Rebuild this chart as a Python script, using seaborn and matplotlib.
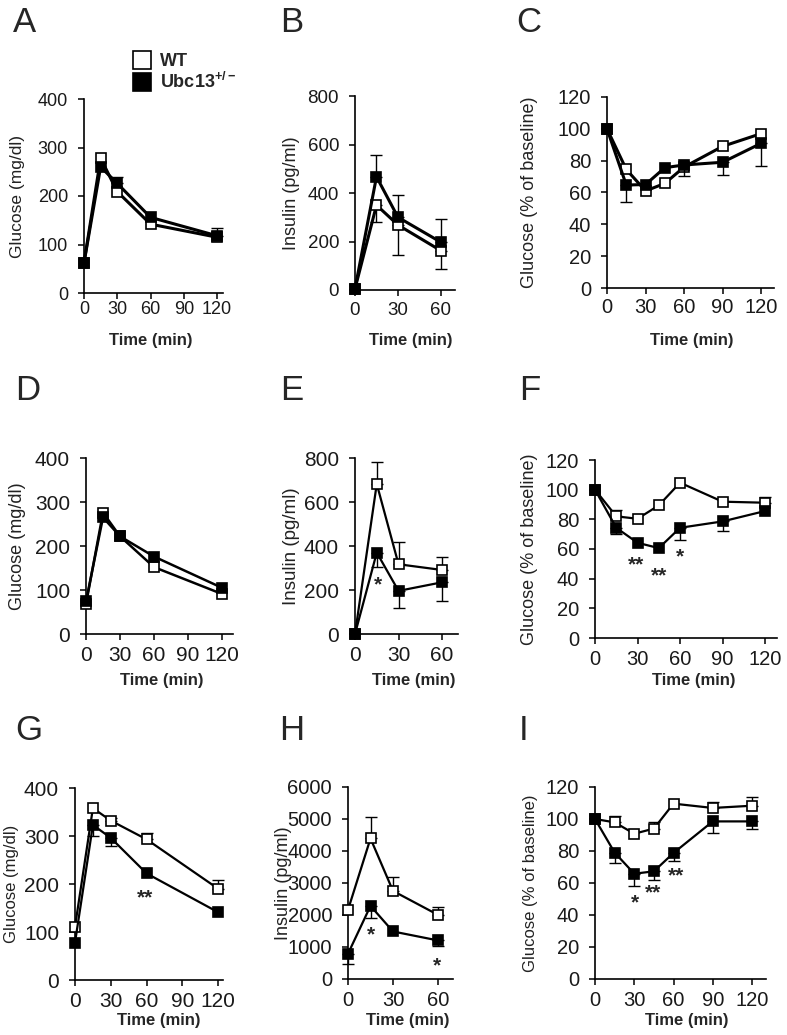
import matplotlib
matplotlib.use("Agg")
import matplotlib.pyplot as plt
from matplotlib.lines import Line2D
import numpy as np
import seaborn as sns

# ---- data ----
glc_time = [0, 15, 30, 60, 120]
ins_time = [0, 15, 30, 60]
pct_time = [0, 15, 30, 45, 60, 90, 120]

# signed errors: >0 drawn upwards, <0 drawn downwards, 0 = not visible
a_wt = [62, 278, 209, 142, 115]
a_ko = [62, 260, 226, 156, 118]
a_wt_err = [0, 0, 0, 0, 0]
a_ko_err = [0, 0, 13, 0, 15]

b_wt = [5, 350, 268, 162]
b_ko = [5, 467, 300, 197]
b_wt_err = [0, -70, -122, -77]
b_ko_err = [0, 90, 92, 94]

c_wt = [100, 74.5, 61, 65.7, 76, 89, 97]
c_ko = [100, 64.7, 65, 75.6, 77.3, 79, 90.9]
c_wt_err = [0, 0, 0, 0, 0, 0, 0]
c_ko_err = [0, -10.5, 0, 0, -7, -8, -14.5]

d_wt = [68, 276, 222, 152, 91]
d_ko = [74, 265, 222, 176, 105]
d_wt_err = [0, 0, 0, 0, 0]
d_ko_err = [0, 0, 0, 0, 0]

e_wt = [0, 682, 317, 291]
e_ko = [0, 370, 196, 235]
e_wt_err = [0, 98, 103, 57]
e_ko_err = [0, -66, -76, -83]

f_wt = [100, 82, 80.4, 89.4, 104.7, 91.9, 91.2]
f_ko = [100, 74.3, 64.2, 60.6, 74.3, 78.6, 85.6]
f_wt_err = [0, 4, 0, 0, 0, 0, 4]
f_ko_err = [0, -4.5, 0, 0, -8.5, -6.5, 0]

g_wt = [111, 358, 332, 293, 190]
g_ko = [78, 323, 296, 222, 141]
g_wt_err = [0, 0, 5, 14, 18]
g_ko_err = [0, -23, -17, 0, 0]

h_wt = [2160, 4392, 2752, 2004]
h_ko = [789, 2284, 1485, 1205]
h_wt_err = [0, 675, 446, 260]
h_ko_err = [-311, -384, 0, -187]

i_wt = [100, 97.9, 90.8, 94, 109.6, 106.9, 108.3]
i_ko = [100, 79, 65.8, 67.3, 78.75, 98.5, 98.5]
i_wt_err = [0, 3.8, 0, 4, 0, 3.7, 5.2]
i_ko_err = [0, -6.5, -7.5, -5.3, -5.2, -7.5, -4.8]

# significance marks: (time, value, text)
e_stars = [(16, 253, "*")]
f_stars = [(29.3, 53.4, "**"), (45.2, 46.2, "**"), (60, 58.6, "*")]
g_stars = [(59, 184, "**")]
h_stars = [(15, 1589, "*"), (59.3, 602, "*")]
i_stars = [(30.3, 51.7, "*"), (44.6, 57.5, "**"), (61.7, 68.3, "**")]

glc_ticks = [0, 100, 200, 300, 400]
ins_ticks = [0, 200, 400, 600, 800]
ins_ticks_h = [0, 1000, 2000, 3000, 4000, 5000, 6000]
pct_ticks = [0, 20, 40, 60, 80, 100, 120]

glc_label = "Glucose (mg/dl)"
ins_label = "Insulin (pg/ml)"
pct_label = "Glucose (% of baseline)"

# ---- style ----
sns.set_style("ticks")
plt.rcParams["font.family"] = ["Liberation Sans", "DejaVu Sans"]
plt.rcParams["mathtext.fontset"] = "custom"
plt.rcParams["mathtext.rm"] = "Liberation Sans:bold"
plt.rcParams["mathtext.default"] = "rm"

W, H = 787, 1035
fig = plt.figure(figsize=(W / 100, H / 100), dpi=100)


def rect(left, right, top, bottom):
    return [left / W, 1 - bottom / H, (right - left) / W, (bottom - top) / H]


# panel layout in pixels: letter, (left, right, top, bottom), xmax, ...
panels = [
    dict(letter="A", box=(84, 223, 99, 293), t=glc_time, wt=a_wt, ko=a_ko, we=a_wt_err, ke=a_ko_err,
         xmax=125.4, xt=[0, 30, 60, 90, 120], yt=glc_ticks, yl=glc_label, stars=[],
         lpos=(13, 22), ylx=18, xlab=(151, 340), tfs=13, yfs=12.5, xpad=1.5, lw=2.2, ms=7.5),
    dict(letter="B", box=(355, 455, 96, 290), t=ins_time, wt=b_wt, ko=b_ko, we=b_wt_err, ke=b_ko_err,
         xmax=69.8, xt=[0, 30, 60], yt=ins_ticks, yl=ins_label, stars=[],
         lpos=(280, 22), ylx=292, xlab=(411, 340), tfs=13.5, yfs=13, xpad=4, lw=2.2, ms=7.5),
    dict(letter="C", box=(607, 774, 97, 288), t=pct_time, wt=c_wt, ko=c_ko, we=c_wt_err, ke=c_ko_err,
         xmax=130, xt=[0, 30, 60, 90, 120], yt=pct_ticks, yl=pct_label, stars=[],
         lpos=(516, 22), ylx=530, xlab=(692, 340), tfs=14.5, yfs=13, xpad=3, lw=2.2, ms=7.5),
    dict(letter="D", box=(86, 233, 458, 634), t=glc_time, wt=d_wt, ko=d_ko, we=d_wt_err, ke=d_ko_err,
         xmax=129.7, xt=[0, 30, 60, 90, 120], yt=glc_ticks, yl=glc_label, stars=[],
         lpos=(15, 390), ylx=18, xlab=(162, 680), tfs=15, yfs=13, xpad=4, lw=1.8, ms=7),
    dict(letter="E", box=(355, 458, 458, 634), t=ins_time, wt=e_wt, ko=e_ko, we=e_wt_err, ke=e_ko_err,
         xmax=71, xt=[0, 30, 60], yt=ins_ticks, yl=ins_label, stars=e_stars,
         lpos=(280, 390), ylx=291, xlab=(414, 680), tfs=15, yfs=13.5, xpad=4, lw=1.6, ms=7),
    dict(letter="F", box=(595, 777, 460, 638), t=pct_time, wt=f_wt, ko=f_ko, we=f_wt_err, ke=f_ko_err,
         xmax=128.4, xt=[0, 30, 60, 90, 120], yt=pct_ticks, yl=pct_label, stars=f_stars,
         lpos=(519, 390), ylx=530, xlab=(694, 680), tfs=14.5, yfs=13, xpad=4, lw=1.6, ms=7),
    dict(letter="G", box=(75, 223, 788, 980), t=glc_time, wt=g_wt, ko=g_ko, we=g_wt_err, ke=g_ko_err,
         xmax=124, xt=[0, 30, 60, 90, 120], yt=glc_ticks, yl=glc_label, stars=g_stars,
         lpos=(15, 730), ylx=12, xlab=(159, 1020), tfs=15, yfs=12, xpad=4, lw=1.6, ms=7),
    dict(letter="H", box=(348, 453, 787, 979), t=ins_time, wt=h_wt, ko=h_ko, we=h_wt_err, ke=h_ko_err,
         xmax=70, xt=[0, 30, 60], yt=ins_ticks_h, yl=ins_label, stars=h_stars,
         lpos=(279, 730), ylx=283, xlab=(408, 1020), tfs=14.5, yfs=13, xpad=4, lw=1.6, ms=7),
    dict(letter="I", box=(595, 766, 787, 979), t=pct_time, wt=i_wt, ko=i_ko, we=i_wt_err, ke=i_ko_err,
         xmax=130.7, xt=[0, 30, 60, 90, 120], yt=pct_ticks, yl=pct_label, stars=i_stars,
         lpos=(519, 730), ylx=531, xlab=(687, 1020), tfs=14.5, yfs=12, xpad=4, lw=1.6, ms=7),
]


def draw_series(ax, t, vals, err, fill, z, p):
    t = np.asarray(t, float)
    vals = np.asarray(vals, float)
    err = np.asarray(err, float)
    show = err != 0
    if show.any():
        lo = np.where(err < 0, -err, 0)[show]
        hi = np.where(err > 0, err, 0)[show]
        ax.errorbar(t[show], vals[show], yerr=[lo, hi], fmt="none", ecolor="black",
                    elinewidth=1.0, capsize=4, capthick=1.0, zorder=z - 0.5, clip_on=False)
    sns.lineplot(x=t, y=vals, ax=ax, color="black", linewidth=p["lw"], marker="s",
                 markersize=p["ms"], markerfacecolor=fill, markeredgecolor="black",
                 markeredgewidth=1.2, errorbar=None, zorder=z, clip_on=False)


for p in panels:
    left, right, top, bottom = p["box"]
    ax = fig.add_axes(rect(left, right, top, bottom))
    draw_series(ax, p["t"], p["wt"], p["we"], "white", 3, p)
    draw_series(ax, p["t"], p["ko"], p["ke"], "black", 4, p)
    for tx, ty, s in p["stars"]:
        ax.annotate(s, (tx, ty), xytext=(0, -8.5), textcoords="offset points",
                    ha="center", va="baseline", fontsize=15, fontweight="bold")
    ax.set_xlim(0, p["xmax"])
    ax.set_ylim(0, p["yt"][-1])
    ax.set_xticks(p["xt"])
    ax.set_yticks(p["yt"])
    ax.set_xlabel("")
    ax.set_ylabel("")
    sns.despine(ax=ax)
    for s in ("left", "bottom"):
        ax.spines[s].set_linewidth(1.2)
        ax.spines[s].set_color("black")
    ax.tick_params(axis="both", direction="out", length=4.5, width=1.1, color="black",
                   labelsize=p["tfs"], labelcolor="#1a1a1a")
    ax.tick_params(axis="y", pad=7)
    ax.tick_params(axis="x", pad=p["xpad"])
    ax.set_facecolor("none")

    cy = (top + bottom) / 2
    fig.text(p["ylx"] / W, 1 - cy / H, p["yl"], rotation=90, ha="center", va="center",
             fontsize=p["yfs"], color="#222222")
    fig.text(p["xlab"][0] / W, 1 - p["xlab"][1] / H, "Time (min)", ha="center", va="center",
             fontsize=12, fontweight="bold")
    fig.text(p["lpos"][0] / W, 1 - p["lpos"][1] / H, p["letter"], ha="left", va="center",
             fontsize=25)

    if p["letter"] == "A":
        handles = [
            Line2D([], [], ls="none", marker="s", ms=13, mfc="white", mec="black", mew=1.2),
            Line2D([], [], ls="none", marker="s", ms=13, mfc="black", mec="black", mew=1.2),
        ]
        fig.legend(handles, ["WT", "Ubc13$^{+/-}$"], loc="upper left",
                   bbox_to_anchor=(133 / W, 1 - 53 / H), frameon=False, handlelength=1.0,
                   handletextpad=0.5, labelspacing=0.1, borderpad=0, borderaxespad=0,
                   prop={"weight": "bold", "size": 13})

fig.savefig("out.png", dpi=100, facecolor="white")
